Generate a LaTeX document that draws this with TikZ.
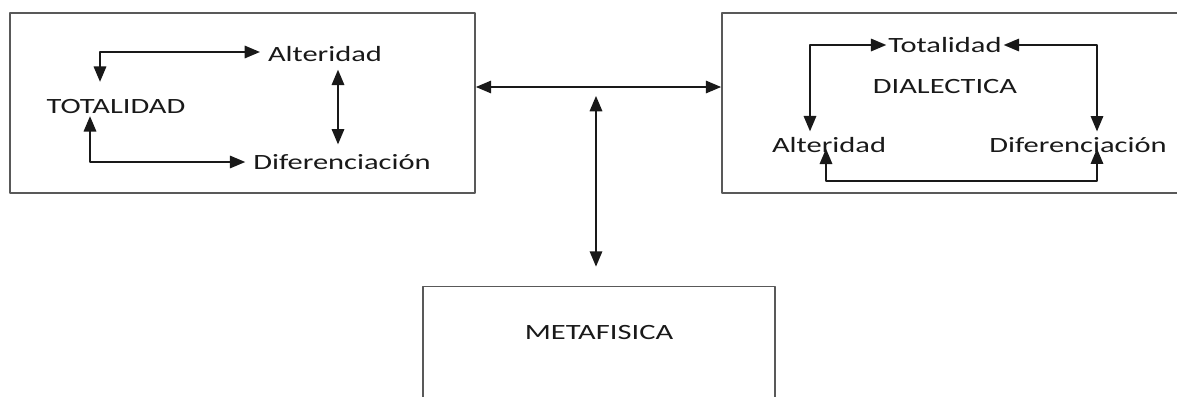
\documentclass[tikz,border=0pt]{standalone}
\usepackage{fontspec}
\newfontfamily\rotulo{Carlito}[FakeStretch=1.4]
\usetikzlibrary{arrows}
\usetikzlibrary{calc}

\tikzset{
  caja/.style={draw=black!65,line width=1.1pt,rectangle,inner sep=0pt},
  texto/.style={inner sep=1pt,text=black!90,font=\rotulo\fontsize{12.4}{14}\selectfont},
  flecha/.style={line width=1pt,color=black!90,<->}
}

\begin{document}
\begin{tikzpicture}[line cap=round,line join=round,>=triangle 45,x=0.02cm,y=-0.02cm]
        \useasboundingbox (0,0) rectangle (1177,396);
        % cajas
        \node[caja,minimum width=9.3cm,minimum height=3.6cm] (izq) at (242.5,103) {};
        \node[caja,minimum width=9.4cm,minimum height=3.6cm] (der) at (957,103) {};
        \node[caja,minimum width=7.04cm,minimum height=2.7cm] (meta) at (599,354) {};
        \node[texto] (metaT) at (599,333) {METAFISICA};
        % caja izquierda
        \node[texto] (tot) at (116,107) {TOTALIDAD};
        \node[texto] (alt) at (325,54) {Alteridad};
        \node[texto] (dif) at (342,162) {Diferenciación};
        \draw[flecha] ($(tot.north)+(-16,-16)$) |- ($(alt.west)+(-6,-2)$);
        \draw[flecha] ($(tot.south)+(-26,0)$) |- ($(dif.west)+(-6,0)$);
        \draw[flecha] ($(alt.south)+(13,6)$) -- ($(dif.north)+(-4,-8)$);
        % caja derecha
        \node[texto] (tot2) at (945,45) {Totalidad};
        \node[texto] (dial) at (945,87) {DIALECTICA};
        \node[texto] (alt2) at (829,145) {Alteridad};
        \node[texto] (dif2) at (1078,145) {Diferenciación};
        \draw[flecha] (tot2.west) -| ($(alt2.north)+(-19,-4)$);
        \draw[flecha] (tot2.east) -| ($(dif2.north)+(19,-4)$);
        \draw[flecha] ($(alt2.south)+(-3,-6)$) -- ++(0,32) -| ($(dif2.south)+(19,-6)$);
        % entre cajas
        \coordinate (cruce) at (596,96);
        \draw[flecha] (izq.east |- 0,87) -- (der.west |- 0,87);
        \draw[flecha] (cruce) -- ($(meta.north -| cruce)+(0,-19)$);
\end{tikzpicture}
\end{document}
